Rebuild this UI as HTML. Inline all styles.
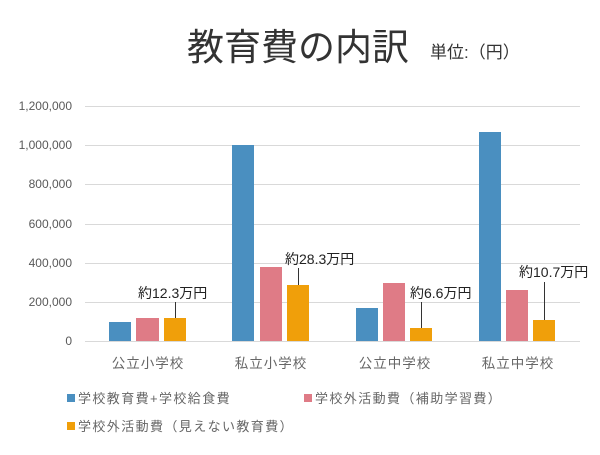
<!DOCTYPE html><html><head><meta charset="utf-8"><style>body{margin:0;background:#fff}</style></head><body>
<svg width="600" height="450" xmlns="http://www.w3.org/2000/svg" font-family="Liberation Sans, Noto Sans CJK JP, sans-serif">
<rect width="600" height="450" fill="#fff"/>
<text x="187" y="60" font-size="37" fill="#333">教育費の内訳</text>
<text x="430" y="58" font-size="17" fill="#333">単位:（円）</text>
<g stroke="#d9d9d9" stroke-width="1">
<line x1="85" y1="106.5" x2="580" y2="106.5"/><line x1="85" y1="145.5" x2="580" y2="145.5"/>
<line x1="85" y1="184.5" x2="580" y2="184.5"/><line x1="85" y1="224.5" x2="580" y2="224.5"/>
<line x1="85" y1="263.5" x2="580" y2="263.5"/><line x1="85" y1="302.5" x2="580" y2="302.5"/>
<line x1="85" y1="341.5" x2="580" y2="341.5"/></g>
<g font-size="12" fill="#595959" text-anchor="end">
<text x="72" y="110">1,200,000</text><text x="72" y="149">1,000,000</text><text x="72" y="188">800,000</text>
<text x="72" y="228">600,000</text><text x="72" y="267">400,000</text><text x="72" y="306">200,000</text><text x="72" y="345">0</text></g>
<g fill="#4a8fc0"><rect x="109" y="322" width="22" height="19"/><rect x="232" y="145" width="22" height="196"/><rect x="356" y="308" width="22" height="33"/><rect x="479" y="132" width="22" height="209"/></g>
<g fill="#df7b86"><rect x="136" y="318" width="23" height="23"/><rect x="260" y="267" width="22" height="74"/><rect x="383" y="283" width="22" height="58"/><rect x="506" y="290" width="22" height="51"/></g>
<g fill="#f09f0a"><rect x="164" y="318" width="22" height="23"/><rect x="287" y="285" width="22" height="56"/><rect x="410" y="328" width="22" height="13"/><rect x="533" y="320" width="22" height="21"/></g>
<g stroke="#333" stroke-width="1"><line x1="175.5" y1="302" x2="175.5" y2="318"/><line x1="298.5" y1="268" x2="298.5" y2="285"/><line x1="421.5" y1="302" x2="421.5" y2="328"/><line x1="544.5" y1="282" x2="544.5" y2="320"/></g>
<g font-size="14" fill="#222"><text x="138" y="298">約12.3万円</text><text x="285" y="264">約28.3万円</text><text x="410" y="298">約6.6万円</text><text x="519" y="277">約10.7万円</text></g>
<g font-size="13.5" fill="#666" text-anchor="middle" letter-spacing="1"><text x="148" y="368">公立小学校</text><text x="271" y="368">私立小学校</text><text x="395" y="368">公立中学校</text><text x="518" y="368">私立中学校</text></g>
<rect x="67" y="394" width="8" height="8" fill="#4a8fc0"/><rect x="304" y="394" width="8" height="8" fill="#df7b86"/><rect x="67" y="422" width="8" height="8" fill="#f09f0a"/>
<g font-size="13" fill="#666" letter-spacing="1.4"><text x="78" y="403">学校教育費+学校給食費</text><text x="315" y="403">学校外活動費（補助学習費）</text><text x="78" y="431">学校外活動費（見えない教育費）</text></g>
</svg></body></html>
